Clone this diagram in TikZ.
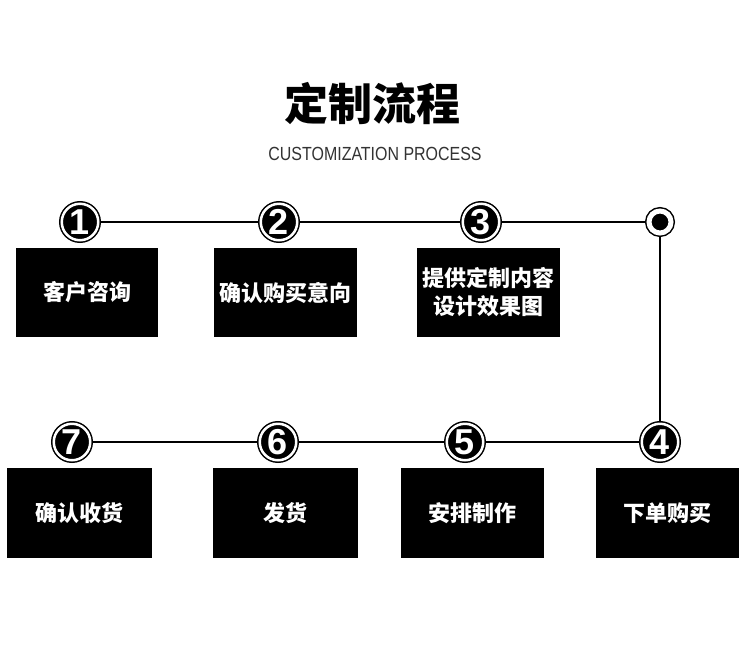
\documentclass[tikz,border=0pt]{standalone}
\usepackage{fontspec}
\usepackage{graphicx}
\newfontfamily\cjk{Noto Sans CJK SC}
\newfontfamily\sansf{Liberation Sans}
\pgfdeclarelayer{background}
\pgfsetlayers{background,main}
\tikzset{
  stepbox/.style={fill=black, text=white, inner sep=0pt, minimum width=143pt, minimum height=89pt,
    align=center, font=\cjk\bfseries\fontsize{22}{28}\selectfont},
  numc/.style={circle, fill=black, draw=black, line width=1.5pt, double=white, double distance=2.5pt,
    inner sep=0pt, minimum size=36.5pt, text=white, font=\sansf\bfseries\fontsize{36}{36}\selectfont},
  endc/.style={circle, fill=black, draw=black, line width=1.5pt, double=white, double distance=5pt,
    inner sep=0pt, minimum size=22pt},
  conn/.style={draw=black, line width=2pt}
}
\begin{document}
\begin{tikzpicture}[x=1pt, y=-1pt]
\useasboundingbox (0,0) rectangle (750,665);
\node[font=\cjk\bfseries\fontsize{44}{50}\selectfont] (title) at (372,104) {定制流程};
\node[text=black!80, font=\sansf\fontsize{19}{22}\selectfont] (sub) at (375,154) {\scalebox{0.84}[1]{CUSTOMIZATION PROCESS}};
% top row
\node[numc] (c1) at (80,222) {1};
\node[numc] (c2) at (279,222) {2};
\node[numc] (c3) at (481,222) {3};
\node[endc] (d) at (660,222) {};
\node[stepbox, minimum width=142pt] (b1) at (87,292.5) {客户咨询};
\node[stepbox] (b2) at (285.5,292.5) {确认购买意向};
\node[stepbox] (b3) at (488.5,292.5) {提供定制内容\\设计效果图};
% bottom row
\node[numc] (c7) at (72,442) {7};
\node[numc] (c6) at (278,442) {6};
\node[numc] (c5) at (465,442) {5};
\node[numc] (c4) at (660,442) {4};
\node[stepbox, minimum width=145pt, minimum height=90pt] (b7) at (79.5,513) {确认收货};
\node[stepbox, minimum width=145pt, minimum height=90pt] (b6) at (285.5,513) {发货};
\node[stepbox, minimum width=143pt, minimum height=90pt] (b5) at (472.5,513) {安排制作};
\node[stepbox, minimum width=143pt, minimum height=90pt] (b4) at (667.5,513) {下单购买};
\begin{pgfonlayer}{background}
\fill[white] (0,0) rectangle (750,665);
\draw[conn] (c1.center) -- (c2.center) -- (c3.center) -- (d.center) -- (c4.center) -- (c5.center) -- (c6.center) -- (c7.center);
\end{pgfonlayer}
\end{tikzpicture}
\end{document}
